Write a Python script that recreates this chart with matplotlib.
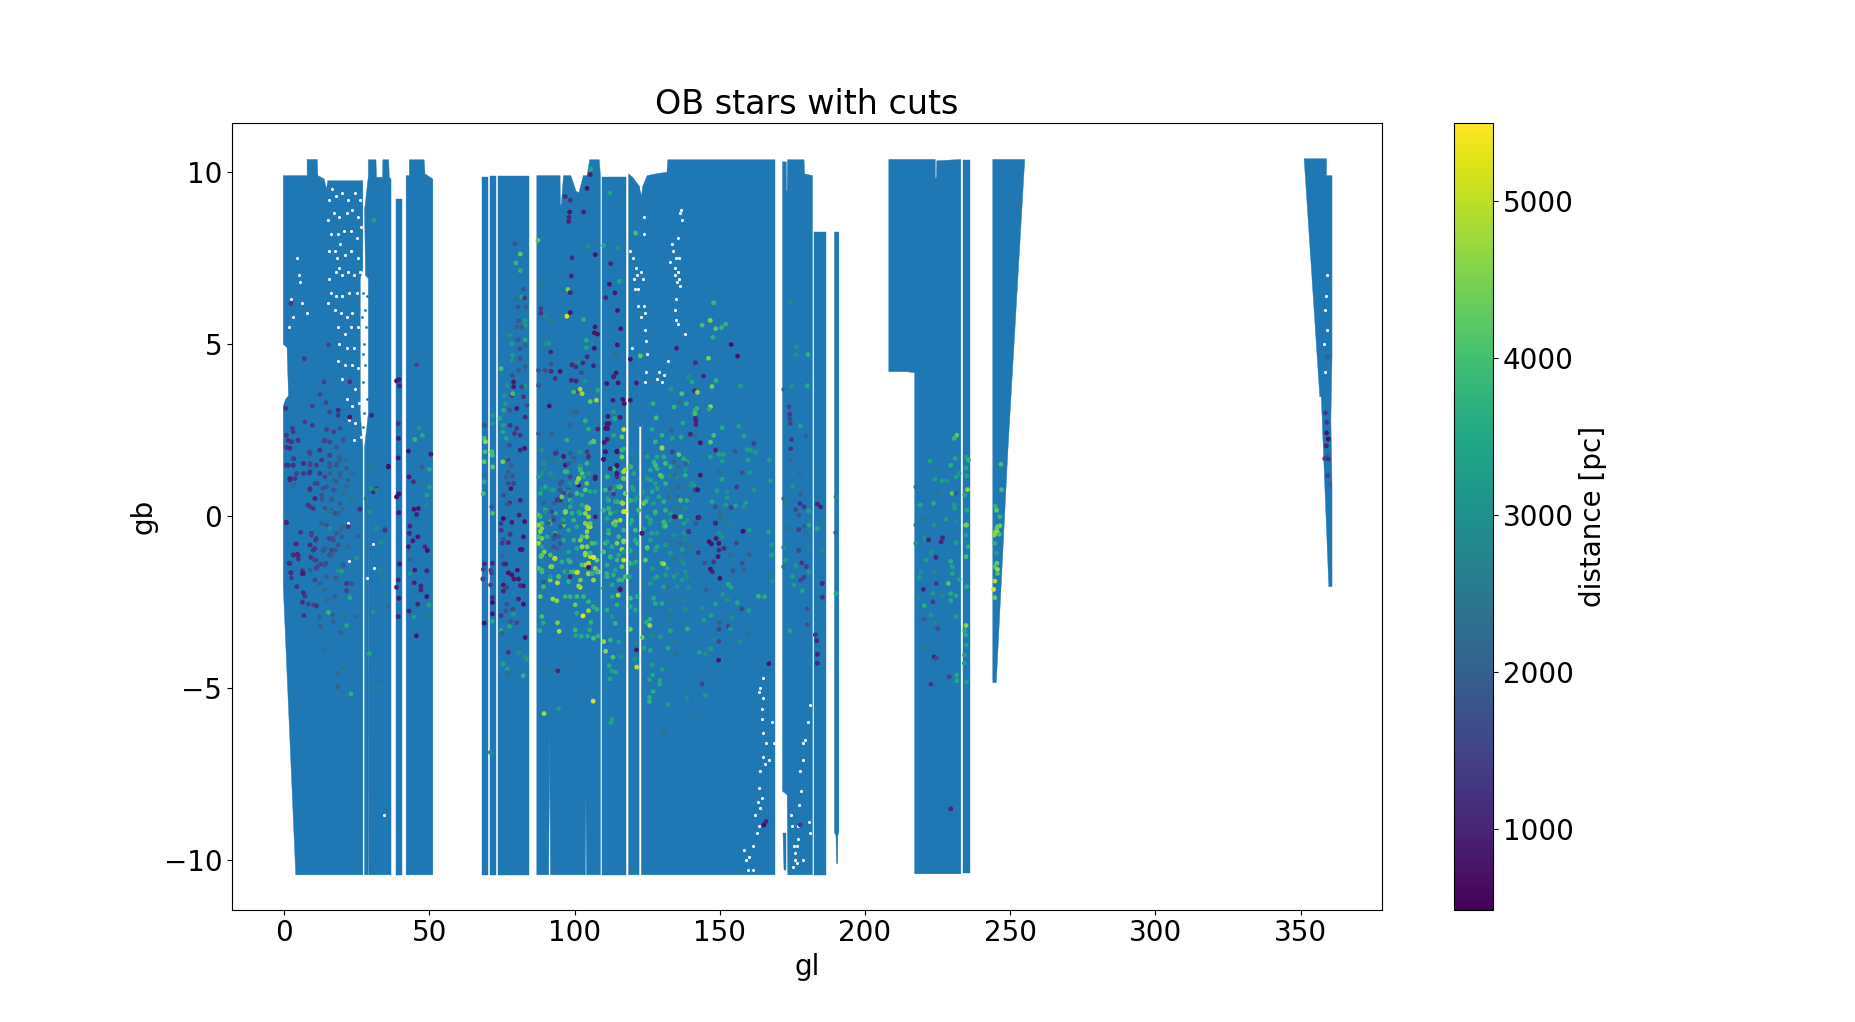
import numpy as np
import matplotlib
matplotlib.use("Agg")
import matplotlib.pyplot as plt

plt.rcParams['font.size'] = 20

# ---- Sky coverage of the full OB sample, outlines read as (gl, gb) ----
area_a = [(-.3,9.9),(7.9,9.9),(7.9,10.37),(11.4,10.37),(11.6,9.9),(13.8,9.8),(14.6,9.5),(15,9.75),(27.1,9.75),(27.1,7.2),(26.2,6.9),(26.2,3),(27.1,2),(27.1,-10.43),(4,-10.43),(-.3,-2.05),(-.3,3.2),(.5,3.4),(1.5,3.5),(1,4.9),(-.3,5)]
area_b = [(27.7,8.9),(28,7),(29,6.9),(29,3),(27.7,2),(27.7,-10.43),(28.95,-10.43),(29.05,1),(29.2,-10.43),(36.8,-10.43),(36.8,9.8),(36.2,9.85),(36,10.36),(34,10.36),(33.9,9.85),(31.8,9.85),(31.6,10.36),(29,10.36),(29,9.9)]
area_c = [(38.4,9.23),(40.5,9.23),(40.5,-10.43),(38.4,-10.43)]
area_d = [(42,9.9),(43.1,9.9),(43.1,10.36),(48.2,10.36),(48.5,9.95),(51.2,9.8),(51.2,-10.43),(42,-10.43)]
area_e = [(68.2,9.85),(70.2,9.85),(70.2,-10.43),(68.2,-10.43)]
area_f = [(70.9,9.9),(73.1,9.9),(73.1,-10.43),(70.9,-10.43)]
area_g = [(73.6,9.9),(84.4,9.9),(84.4,-10.43),(73.6,-10.43)]
area_h = [(87,9.9),(95,9.9),(95.1,9.05),(95.4,9.05),(96.2,9.9),(98.7,9.9),(100.5,9.45),(101.5,9.4),(103,9.9),(104.3,9.9),(105.2,10.36),(108.5,10.36),(108.9,9.9),(108.9,-10.43),(104.1,-10.43),(103.9,-8.1),(103.7,-10.43),(91.7,-10.43),(91.4,-6.3),(91.1,-10.43),(87,-10.43)]
area_i = [(109.6,9.85),(117.8,9.85),(117.8,-10.43),(109.6,-10.43)]
area_j = [(118.6,9.95),(120,9.85),(122.2,9.6),(122.2,-10.43),(118.6,-10.43)]
area_k = [(122.2,9.6),(123,9.3),(123.5,9.6),(125,9.9),(128,9.95),(131.8,10),(132.1,10.36),(169,10.36),(169,-10.43),(123,-10.43),(123,2.6),(122.2,2.6)]
area_l = [(171.6,10.3),(172.9,10.3),(172.95,9.45),(173.2,9.45),(173.3,10.36),(179,10.36),(179.2,9.95),(181.9,9.9),(181.9,-10.43),(173.4,-10.43),(173.2,-8.1),(171.6,-8)]
area_l2 = [(171.8,-9.2),(172.9,-9.2),(172.9,-10.3),(172,-10.3)]
area_m = [(182.5,8.26),(186.5,8.26),(186.5,-10.43),(182.5,-10.43)]
area_n = [(189.5,8.26),(191,8.26),(191,-9.2),(190.6,-9.3),(190.6,-10.1),(190.2,-10.1),(190,-9.3),(189.5,-9.2)]
area_o = [(208.2,10.37),(224.2,10.37),(224.2,9.8),(224.6,9.85),(224.7,10.33),(233,10.37),(233,-10.4),(217.1,-10.4),(217.1,4.17),(214,4.2),(208.2,4.2)]
area_o2 = [(233.7,10.36),(236.1,10.36),(236.1,-10.37),(233.7,-10.37)]
area_p = [(244,10.37),(255,10.37),(249.2,1.92),(245.2,-4.84),(244,-4.84)]
area_q = [(351.2,10.39),(358.9,10.39),(358.9,9.9),(360.8,9.9),(360.8,4.6),(360.4,2.8),(360.8,.85),(360.8,-2.05),(359.7,-2.05),(357.1,3.47),(356.6,3.47)]
areas = [area_a, area_b, area_c, area_d, area_e, area_f, area_g, area_h, area_i, area_j,
         area_k, area_l, area_l2, area_m, area_n, area_o, area_o2, area_p, area_q]

# ---- Stray stars inside the wide gap near gl 27 ----
strays = [(27.3,6.5),(27.8,6),(28.3,5.5),(27.5,5),(28,4.4),(27.3,3.9),(28.4,3.4),(27.6,3),(26.9,5.8),(27,4.7),(28.5,6.4),(27.2,2.6)]

# ---- Small empty patches inside that coverage ----
gaps = [(15.5,9.2),(16.5,9.5),(18,9.3),(20,9.4),(22,9.2),(24.5,9.4),(26,9.2),(15.2,8.6),(17,8.8),(19,8.7),(21.5,8.8),(23.5,8.9),(25.5,8.7),(16,8.2),(18.5,8.2),(20.5,8.3),(23,8.3),(25,8.1),(26.5,8.4),(15.5,7.7),(17.5,7.7),(18.3,7.5),(19.2,7.9),(21,7.6),(23,7.7),(25.5,7.5),(17.8,7.1),(19,7.2),(20,7),(22,7.1),(24,7),(26,7.1),(15.3,6.9),(16,6.5),(18,6.4),(20,6.4),(22.5,6.5),(25,6.5),(15.2,6.2),(17.5,6),(19.5,5.9),(21.5,5.8),(23.5,5.9),(18.5,5.5),(21,5.3),(23,5.5),(25.5,5.5),(19,5),(21.5,4.9),(24,4.9),(18.5,4.5),(21,4.4),(23.5,4.4),(25.5,4.3),(20,4),(22.5,3.9),(24.5,3.7),(21.5,3.4),(23.5,3.2),(25.8,3.3),(22.5,2.8),(24.5,2.7),(24,2.2),(26.3,2.3),
        (4.5,7.5),(5.5,6.8),(6,6.2),(3,5.8),(7.8,5.9),(2.5,6.3),(5.2,7),(1.5,5.5),(22,-.2),(22.2,-1.3),(30.5,-.8),(31,-1.5),(28.5,-1.8),(34.5,-8.7),
        (119.2,7.7),(120,7.5),(121,7.2),(120.5,6.9),(121.5,7),(122,6.6),(120.8,6.6),(121.7,6.1),(122.8,7.1),(123.5,6.9),(124,6.1),(123,5.8),(124.3,5.4),(124.5,5.1),(124.8,4.7),(124.7,4.2),(124.2,3.9),(123.9,8.7),(123.8,8.2),(124.2,5.9),(119.6,4.9),
        (133.5,7.9),(134,7.7),(133,7.4),(135,7.5),(136,7.5),(134.5,7.2),(135.5,7.1),(135.8,6.9),(136.3,6.7),(135.2,6.8),(134.5,7),(136.4,8.8),(137,8.6),(136.7,8.9),(135.5,8.1),(134.8,6.3),(134.5,6),(134.8,5.7),(135.5,5.6),(138,5.3),(132,4.5),(130.7,4.1),(130,3.9),(128.3,4),(129,4.2),
        (165,-4.7),(164,-5),(163.5,-5.1),(165,-5.3),(164.5,-5.6),(164.7,-5.9),(164.8,-6.3),(166,-6.6),(164.8,-7),(164,-7.4),(165.5,-7.2),(166.8,-7.1),(163.5,-7.9),(164.5,-8.2),(163,-8.3),(164,-8.5),(162,-8.7),(163.5,-9),(162.7,-9.2),(161.5,-9.6),(160.2,-9.9),(159,-10),(158.5,-9.7),(159.8,-10.3),(161.5,-10.3),(168.5,-6.6),(168,-6),
        (181,-5.5),(180.5,-6),(179.5,-6.5),(178.5,-6.6),(178.8,-7.1),(177.7,-7.4),(178,-8),(177.2,-8.4),(180.7,-8.9),(181.2,-9.2),(174.5,-8.7),(175,-9),(175.5,-9.6),(176,-9.8),(176.5,-9.6),(177,-9.4),(176,-10),(176.5,-10.1),(175.2,-10.2),(177,-9),(178.5,-10),
        (358,5),(358.3,4.2),(358.5,6),(359,7),(358.6,6.4),(358.9,5.4)]

# ---- Stars passing the cuts: (gl, gb, distance in pc) ----
stars_gl0 = [(2.3,6.18,1300),(6.9,4.58,1300),(.6,3.13,1200),(2.9,2.55,1300),(1.4,2.2,1200),(2,1.97,1100),(.8,2,1200),(4.8,2.2,1300),(9.7,2.64,1300),(7.1,2.74,1400),(9.7,3.2,1400),(12.3,3.54,1500),(14.4,3.3,1500),(15.7,3.03,1500),(18.6,3.08,1000),(18.6,2.93,1300),(22.6,2.88,800),(22.6,3.9,1200),(13.7,3.9,1500),(15.3,4.98,1500),(14.6,2.52,1500),(17.1,2.45,1400),(19.2,2.55,1700),(20.4,2.25,2000),(13.8,2.18,1500),(15.7,2.16,1500),(8.6,1.87,1700),(12.3,1.92,1400),(15.7,1.77,1900),(19,1.72,2000),(21.3,1.63,2200),(3.3,1.67,1200),(1.4,1.48,1300),(3.1,1.48,1500),(8.9,1.48,1500),(12.3,1.24,1500),(2,1.09,1000),(3.7,1.09,1300),(8.6,1.24,1500),(15.7,1.43,1800),(18,1.53,2000),(23.2,1.24,2200),(19.2,1.14,2000),(14.6,.85,1800),(8.9,.8,1300),(17.5,.76,2000),(21.5,.85,2200),(10.6,.51,1500),(16.3,.51,1900),(8.9,.27,1500),(14,.22,1700),(19.2,.37,1900),(17.5,.08,1700),(.8,-.18,1300),(3.3,.9,2200),
(.8,-.19,1100),(5.7,-.47,1300),(4,-.81,1000),(3.3,-1.13,1100),(4.5,-1.11,1000),(4.9,-1.25,1200),(1.7,-1.37,1100),(2.3,-1.65,1100),(2.5,-1.79,1300),(6.3,-1.59,1200),(6.3,-1.68,1000),(4.3,-2.05,1200),(6.6,-2.23,1100),(7.1,-2.32,1300),(6.3,-2.5,1100),(6.8,-2.89,1200),(8.3,-2.56,1500),(10.3,-2.58,1500),(11.1,-2.61,1300),(9.4,-.5,1300),(8.9,-.84,1100),(10.8,-.7,1400),(10.6,-.94,1300),(11,-1.28,1500),(11.4,-1.47,1500),(8.9,-1.57,2000),(10.6,-1.86,1500),(12.3,-1.96,2000),(14,-2.15,2200),(14.6,-1.76,2000),(14.4,-1.37,1600),(15.7,-1.13,1700),(16.9,-.7,1700),(16.3,-.99,1600),(18.6,-.84,1700),(18,-.5,1900),(14.6,-.26,1800),(16.3,.17,2100),(22,-.89,2200),(20.3,-1.52,2300),(21.5,-1.96,1300),(23.2,-1.96,1700),(21.5,-2.17,1400),(17.5,-2.34,2000),(14.8,-2.44,2200),(12.1,-2.94,2000),(12.5,-3.21,2000),(16.7,-2.88,2000),(16.9,-3.07,2000),(24.4,-2.92,2200),(20.7,-2.92,2300),(19.5,-3.39,2000),(14,-3.89,2300),(18.4,-4.57,2200),(18.4,-4.96,2000),(20.7,-4.42,2400),
(15.2,-2.8,3800),(21.5,-3.18,3500),(22.6,-2.37,3500),(23,-5.17,3700),(18.6,-1.59,3000),(12.9,-.2,2000),(20.1,.2,2200),(13.5,-1,1700),(17.8,-1.8,1900),(11.5,.95,1600),(9.2,-1.2,1200),(13,.5,1800),(17,1.05,2200),(19.4,-.4,2200),(15.5,-.65,1500),(12.6,-1.4,1600)]

stars_gl0_dense = [(.8,2.35,1300),(3.1,2.45,1300),(2.5,2.16,1200),(4.8,2.21,1200),(12.3,1.92,1200),(15.7,1.77,1500),(8.9,1.82,1500),(14,2.21,1500),(18,2.01,1800),(20.3,2.21,1800),(19.2,1.63,2000),(15.7,1.53,1800),(8.9,1.53,1500),(6.6,1.53,1100),(3.1,1.67,1500),(.8,1.48,1200),(3.1,1.48,1200),(11.1,1.48,1300),(12.9,1.63,1300),(18,1.48,1800),(21.5,1.38,1900),(8.9,1.29,1200),(6.6,1.24,1200),(12.3,1.24,1300),(15.7,1.24,1900),(19.2,1.24,2000),(23.8,1.24,2200),(2,1.05,1000),(4.3,1.24,1400),(14,1.14,1500),(18,1,1900),(22.1,1.05,2000),(10.6,.95,1500),(8.9,.77,1200),(13.4,.8,1700),(16.9,.76,1800),(10.6,.51,1000),(8.3,.32,1300),(12.9,.61,1800),(16.3,.46,1900),(20.3,.66,2300),(13.4,.13,2600),(15.7,.13,2400),(10,.22,1300),(23.2,.51,2400),(18.6,.08,2000),(.8,-.19,1000),(22.1,-.31,1300),(12.9,-.21,2000),(15.7,-.36,3000),(20.3,-.31,2200),(9.4,-.55,1500),(11.1,-.65,1300),(16.9,-.65,1700),(19.8,-.6,1900),(4.3,-.81,1100),(10,-.99,1200),(14,-.94,1900),(17.5,-.99,1800),(25.5,-.6,2000),(3.1,-1.13,1100),(4.8,-1.13,1000),(10.6,-1.28,1400),(16.3,-1.13,1900),(14,-1.42,1700),(2,-1.37,1200),(6.6,-1.67,900),(19.8,-1.6,3400),(11.1,-1.52,1500),(20.3,-1.42,1800),(24.9,-1.23,3200),(2.3,-1.64,1100),(33,-1.57,3000),(29.8,.82,3000),(29.8,1.48,2800),(35.9,1.43,700),(31.8,.8,1200),(30.7,.71,1000),(26.1,.2,1200),(31.8,-.36,3000),(34.7,-.41,1000)]

stars_gl28 = [(29.2,-4,3500),(33.3,-.77,3000),(34.7,-.4,1300),(33,-1.57,2700),(34.1,-1.86,2700),(34.7,-2.3,2700),(35.9,-2.61,2300),(30.7,-2.78,3000),(32.4,-4.98,2700),(30.9,8.6,3300),(30.1,2.93,1000),(35.9,1.45,700),(30.1,1.53,2500),(30.7,1.24,2500),(30.1,.8,2900),(31.8,.76,2800),(28.2,.51,2500),(29.5,.13,3000),
(39.5,3.97,800),(38.7,3.93,800),(39.7,3.79,1000),(39.3,2.69,1200),(39.4,2.26,900),(39.3,1.69,800),(39.5,.64,700),(38.7,.56,700),(39.5,.1,900),(39.7,-1.39,900),(39.3,-1.86,1000),(38.7,-2.07,1000),(39.5,-2.39,900),(39.3,-2.92,1000),
(45.6,4.4,1500),(46.5,2.55,3000),(47.6,2.35,3600),(45,2.23,3800),(42.8,1.89,800),(50.5,1.8,900),(50,1.36,3500),(47.4,1.43,2000),(43,1.14,900),(44.5,1,1100),(47.4,.95,2500),(50,.85,3300),(49.1,.61,3300),(46.2,.22,800),(44.7,.2,800),(45.6,.05,900),(49.1,.32,2800),
(43.3,-.29,1000),(43.1,-.5,1000),(44.3,-.72,900),(42.8,-.89,900),(46,-.6,900),(48.5,-.89,1000),(49.3,-1,700),(43.3,-1.26,2000),(45,-1.57,900),(49.1,-1.59,1000),(43.3,-1.67,3000),(44.8,-1.94,1000),(47.1,-2.03,1000),(47.1,-2.15,1000),(49.1,-2.34,800),(46,-2.56,1000),(49.8,-2.58,3400),(43,-2.76,1000),(49.7,-2.9,2700),(44.8,-2.94,3300),(45.5,-3.48,800)]

stars_gl68 = [(68.9,2.26,4000),(69.3,2.16,4700),(69.2,1.87,4000),(71.5,1.87,4000),(68.9,1.58,4200),(71.7,1.77,4000),(71.8,1.43,4200),(68.9,1,3500),(68.6,.66,4000),(71.8,.08,4000),(69,2.64,1700),(71.8,2.93,3200),(71.8,2.69,3200),(74.7,4.29,4000),(69.2,1.19,2300),(71.5,.27,1800),
(79.5,7.92,1800),(81.3,7.62,4200),(79.8,7.36,3800),(81.3,7.14,3700),(82.4,6.59,1800),(81.8,6.37,3400),(80.1,6.32,2300),(82.8,6.34,1300),(80.5,6.08,1800),(83.3,6.08,2000),(80.7,5.67,1800),(83,5.69,3200),(83,5.55,3200),(80.1,5.5,2000),(81.8,5.5,2000),(77.8,5.26,3000),(83,5.13,3500),(80.5,5.13,1800),(83,4.97,2000),(78.4,5.01,3300),(81.1,4.87,1700),(78.6,4.68,3300),(81.3,4.58,1700),(78.4,4.53,3000),(83,4.34,2000),(80.7,4.24,1900),(78.6,4.09,1700),(83,3.8,3000),(76.7,3.8,3000),(79,3.9,900),(79,3.76,900),(81.8,3.76,1500),(75.9,3.51,3200),(78.4,3.51,1300),(78.7,3.56,4000),(82.4,3.47,1200),(83.6,3.22,1700),(80.1,3.13,900),(76.1,3.27,3200),(75.5,3.08,3500),(77.6,3.08,1800),(74.3,2.84,3500),(83,2.88,1100),(75.5,2.64,3300),(77.8,2.64,1200),(80.1,2.55,1300),(81.3,2.35,1200),(79.3,2.4,1300),(75.3,2.45,3500),(76.5,2.26,3500),(77.6,2.06,1700),(82.8,1.97,800),(81.3,1.92,1000),(76.5,1.72,2800),(77.2,1.63,1700),(75.3,1.58,4400),(78.1,1.48,2000),(77.2,1.29,1900),(78.6,1.16,1800),(76.5,1.14,2000),(77.2,.95,1600),(79,.95,1500),(78.1,.8,800),(81.3,.46,1000),(75.5,.61,1700),(77.6,.39,1200),(80.9,.03,900),(75.5,-.07,700),(78.4,-.18,900),
(76.9,.35,1800),(82.8,-.16,800),(74.7,-.21,1300),(74.7,-.41,1300),(77.8,-.53,1300),(82.4,-.6,800),(75.5,-.68,1800),(77.2,-.77,1000),(75.1,-.79,1300),(81.3,-.97,800),(81.9,-.97,800),(74.9,-1.15,2200),(75.5,-1.39,1300),(76.3,-1.39,1000),(69,-1.39,1000),(68.6,-1.55,1500),(71.2,-1.57,1500),(71.7,-1.37,1000),(71.4,-1.65,1500),(80.3,-1.57,800),(77.2,-1.65,800),(78.4,-1.71,800),(80.7,-1.83,800),(79.1,-1.83,800),(68.4,-1.83,1500),(71.1,-2,1500),(75.5,-2,800),(82.4,-2.03,800),(81.3,-2.02,1000),(76.5,-2.07,1500),(75.5,-2.18,1000),(80.7,-2.41,1000),(71.7,-2.37,1100),(71.7,-2.51,700),(76.6,-2.56,1700),(82.4,-2.56,700),(78.7,-2.71,1500),(76.3,-2.75,1800),(71.7,-2.84,800),(74.7,-2.89,1300),(68.9,-3.11,700),(71.6,-3.06,3500),(78,-3.06,1800),(80.1,-3.1,1500),(77.6,-3.21,3500),(79,-2.85,3300),(74.7,-3.33,3600),(83,-3.53,800),(75,-3.4,2000),(77.2,-3.96,1300),(80.7,-3.97,3000),(83,-4.1,3000),(83.6,-4.16,3300),(75.3,-4.3,3400),(76.8,-4.44,3300),(76.8,-4.56,2300),(82.3,-4.64,3700),(71,-6.87,3000)]

stars_gl87 = [(87.4,8.02,4200),(97.3,5.81,5200),(97.7,6.59,4400),(98.5,5.92,800),(98.5,6.5,1000),(99.1,7.51,1100),(98.9,6.98,1000),(96.8,9.29,1100),(98.5,9.18,1200),(98.3,8.84,800),(98.1,8.69,1000),(98,8.57,1000),(103.1,8.84,1000),(104.3,9.53,800),(105.4,9.93,900),(105.6,10.08,3500),(104.5,7.84,3000),(107.1,7.6,800),(88.4,6.83,2500),(88.7,6.66,2500),(88.4,6.03,1400),(88.4,5.9,1300),(89.9,5.82,2700),(92.2,5.67,2700),(95.7,5.82,2500),(103.1,5.71,3700),(107,5.5,800),(106.8,5.33,800),(107.9,5.29,800),(104,5.11,3600),(104,4.9,3400),(106,5.01,2700),(106.8,4.88,800),(89.3,5.21,2400),(91.1,5.04,3200),(90.2,5.01,3000),(91.8,4.77,1000),(104.3,4.63,1100),(102.9,4.45,1100),(99.1,4.4,1100),(100.4,4.34,1100),(101,4.48,2800),(106.5,4.37,1000),(91.9,4.43,1700),(89.9,4.24,1700),(91.9,4.21,1100),(87.6,4.24,1800),(95,4.21,800),(93.3,4,1200),(87.6,3.8,1800),(98.9,3.95,1000),(100.5,3.93,1000),(102.3,4.17,1700),(103.7,3.93,3000),(101.9,3.69,4800),(102.6,3.56,4800),(107.5,3.37,4700),(105.4,3.33,4200),(108,3.66,3500),(91.3,3.2,800),(100.6,3.61,1800),(99.7,3.61,4000),
(99.1,3.03,2300),(100.6,3.03,2000),(103.7,2.77,3700),(98.5,2.64,2000),(104.8,2.53,3600),(108,2.53,1000),(87.6,2.4,2000),(92,2.4,2000),(97.3,2.21,3700),(105.4,2.13,3700),(106.5,2.18,4500),(101.9,1.87,3500),(93.7,1.84,1400),(96.2,1.72,1500),(98.5,1.82,2000),(99.7,1.67,1500),(104.8,1.72,1000),(88.7,1.92,3000),(89.3,1.53,3000),(92.8,1.67,2400),(96.8,1.29,4000),(101.9,1.43,4000),(104.2,1.53,3800),(102.6,1.24,4200),(107.1,1.14,800),(91.6,1.24,3000),(87.6,1.14,3400),(98.5,1.14,1500),(101.4,1.09,4700),(104.2,.95,4300),(95,.95,1700),(89.9,.85,3600),(88.2,.66,3600),(92.8,.76,3300),(97.9,.76,1800),(103.7,.76,4200),(100.8,.66,4000),(107.1,.71,3400),(94.5,.51,1500),(98.5,.46,3900),(104.8,.22,5000),(104.2,.27,4500),(96.8,.13,5000),(89.9,.17,3900),(87.6,.03,4100),(93.3,.08,3700),(101.9,.08,3700),(107.1,-.02,900),(99.7,-.12,3800),(103.7,-.21,4500),(105.4,-.31,4800),(88.7,-.21,4000),(91.6,-.16,3800),(96.2,-.26,4200),
(88.2,-.45,4600),(87.6,-.79,4700),(88.7,-.65,4400),(89.6,-1.04,4500),(88.4,-1.18,4100),(87.6,-1.52,4000),(88.7,-1.62,4000),(88.2,-2.34,4300),(92.5,-2.41,4700),(93.9,-2.46,4600),(91.8,-1.47,4700),(93.1,-1.23,4900),(94.1,-1.94,4900),(94.5,-1.76,4400),(96.8,.11,4800),(91.6,-.21,3800),(92.8,-.02,2000),(94.5,-.6,1800),(95.1,-.79,1800),(96.2,-.17,2000),(97.9,-.41,1900),(92.8,-.65,1800),(93.3,-.5,3800),(91,-1.13,1900),(98.5,.27,3600),(97.9,-1.28,3700),(98.5,-1.62,3800),(101,-1.63,4900),(101.9,-2.07,5000),(101.4,-2.03,4600),(103.7,-1.08,4800),(102.6,-.89,4700),(105.4,-1.18,5000),(106.5,-1.2,5300),(104.8,-1.37,4800),(104.2,-.6,4600),(104.8,-.26,4800),(104.8,.22,5000),(103.7,.08,4600),(103.7,-1.42,4700),(107.1,-1.52,4600),(104.8,-1.68,4700),(106.5,-1.86,4700),(108.2,-1.62,4900),(107.7,-1.28,4400),(107.1,-.79,3700),(99.7,-1.62,4000),(96.8,-1.62,3800),(91.6,-1.86,4500),(97.9,-1.91,3700),(89.3,-2.05,3900),(100.8,-2.34,3900),(98.5,-2.34,3800),(96.8,-2.34,3800),(103.1,-2.34,3800),(104.8,-2.49,3800),(106.5,-2.63,3700),(100.2,-2.58,4300),(104.8,-2.75,4700),(102.9,-2.9,5300),(100.8,-2.83,3600),(107.7,-2.71,3700),(88.7,-2.92,4000),(94.1,-3.1,4400),(89.3,-3.1,3500),(88,-3.33,3700),(94.7,-3.35,4800),(100.2,-3.31,3800),(100.4,-3.47,3500),(102.3,-3.49,3600),(104.5,-3.49,3600),(105.6,-3.09,3700),(105.2,-3.31,3600),(106.5,-3.55,4000),(108,-3.49,3700),(106.4,-5.38,5200),(89.5,-5.74,4700),(94.5,-5.6,3200),(90.8,-4.5,2600),(94.2,-4.5,1000)]

stars_gl87_dense = [(93.3,1.82,1300),(96.2,1.74,900),(96.8,1.48,800),(99.7,1.63,2300),(102,1.87,3000),(104.3,1.87,1400),(104.8,1.74,1300),(106.6,2.16,4200),(89.3,1.63,2700),(89.9,1.38,2700),(92.2,1.63,2500),(95.1,1.63,2700),(97.9,1.53,1800),(102,1.48,3000),(97.4,1.29,3700),(101.4,1.09,4700),(102,1.34,3800),(101.4,.9,800),(100.8,.98,4400),(103.1,1.14,3500),(107.1,1.09,900),(104.8,1.24,3200),(88.7,1.24,3000),(92.8,1.14,2700),(95.6,1,1800),(98.5,.95,3000),(97.9,.71,3000),(88.7,.8,3000),(91.6,.76,3000),(95.1,.76,1700),(96.2,.66,1500),(93.9,.46,1300),(95.1,.46,1400),(98.5,.61,1800),(102.5,.61,3500),(105.4,.71,3500),(95.6,.56,4400),(99.1,.42,3000),(104.3,.22,4700),(104.8,-.02,4700),(102.5,.32,3500),(89.9,.13,3000),(92.8,.37,2000),(89.3,.37,2000),(92.2,.13,1600),(96.8,.13,4500),(99.1,.08,3600),(96.2,-.12,3300),(101.4,.13,3500),(88.2,-.02,3800),(88.7,-.36,4500),(87.6,-.26,4600),(91,-.21,2000),(92.8,-.12,1500),(95.1,-.31,1800),(93.3,-.55,1500),(104.8,-.31,4800),(104.3,-.45,4600),(105.4,-.21,4300),(100.8,-.31,3500),(97.9,-.41,3600),(102.5,-.6,4000),(90.5,-.6,3600),(87.6,-.6,4000),(96.2,-.7,3500),(99.7,-.7,3700),(102,-.7,4500),(88.7,-.89,3500),(92.8,-.89,1800),(93.9,-.94,2000),(104.3,-.89,4500),(106,-.79,4000),(97.9,-1.04,3400),(100.8,-.94,3500),(91.6,-1.13,4000),(88.7,-1.13,4200),(93.3,-1.23,4900),(95.6,-1.33,3700),(98.5,-1.33,3800),(103.7,-1.13,4600),(105.4,-1.08,3800),(106.6,-1.2,5300),(104.8,-1.37,4800),(102.5,-1.42,4100),(92.2,-1.47,4500),(88.7,-1.57,3800),(97.4,-1.62,2800),(100.8,-1.64,5000),(104.8,-1.67,4700),(91.6,-1.76,3300),(94.5,-1.76,4000),(102,-1.86,4400),(106,-1.67,3800),(107.7,-1.62,4000),(98.5,-1.76,1000),(89.3,-1.91,1800),(104.8,-1.49,800),
(110.6,1.87,800),(114.6,1.89,700),(110,1.65,700),(114.6,1.48,700),(112.3,1.38,1000),(116.3,1.92,3800),(116.9,1.29,4800),(116.9,1.09,4200),(114.6,1.24,800),(111.2,1.14,3800),(114,.85,3000),(115.2,.85,4000),(112.3,.8,1800),(113.4,.64,1400),(111.2,.51,3300),(114,.42,3500),(116.3,.39,4700),(116.9,.13,5000),(111.7,.22,3800),(114,.13,3000),(111.2,-.07,3400),(115.7,-.12,4700),(114,-.26,4000),(111.7,-.41,3500),(116.9,-.41,3800),(115.2,-.6,3900),(111.2,-.75,3500),(112.9,-.89,3600),(116.9,-.75,4500),(110,-1.04,4000),(112.3,-1.2,3700),(115.2,-1.13,3500),(116.9,-1.04,3000),(111.2,-1.42,3600),(114,-1.57,3400),(116.3,-1.47,4200),(111.2,-1.76,3800),(115.2,-1.86,3800),(117.5,-1.76,4000),(112.9,-2,3500),(115.7,-2.12,800),
(119.2,1.43,3800),(120.3,1.24,3500),(119.8,.85,3400),(120.9,.46,3300),(119.2,.46,3700),(119.8,-.12,3600),(120.9,-.41,4000),(120.9,-.7,3600),(119.2,-1,3500),(120.3,-1.37,3400),(119.2,-1.76,3300),(123.2,-.5,800)]

stars_gl110 = [(116.9,2.52,5000),(116.3,2.3,4300),(113.4,3.03,3300),(113.8,2.84,3500),(111.5,2.9,800),(111.1,2.69,800),(111.9,2.69,800),(110.7,2.55,700),(111.4,2.55,800),(115.7,2.87,900),(110.2,2.14,800),(111.2,2.23,900),(114.6,1.87,800),(110.6,1.87,800),(110,1.65,800),(114.6,1.46,800),(116.9,1.95,3800),(113.4,2.35,3500),(113.2,3.37,900),(117.1,3.27,800),(116.6,3.39,800),(119.2,3.37,800),(112.1,9.39,3400),(110,7.87,3500),(111.4,7.6,2600),(112.4,7.34,1000),(114.8,7.79,3000),(115.4,6.83,3500),(112,6.74,800),(113.9,6.49,800),(110.7,6.35,1000),(114.8,5.98,800),(115.9,5.45,800),(114.7,4.98,800),(114.1,4.7,2300),(119.2,4.56,800),(114.3,4.16,800),(113.4,4.05,900),(115,3.87,800),(111.1,3.85,800),(121,8.23,4000),(122.7,4.66,4200),(121.3,3.87,900),
(116.3,1.72,4400),(113.4,1.38,3800),(117.4,1.34,4800),(119.2,1.43,4500),(116.9,1.09,5000),(114.6,1.14,1200),(111.7,1.14,3000),(110.6,.76,3800),(112.9,.76,3700),(115.7,.85,4600),(117.4,.66,4400),(120.3,.76,3400),(111.7,.46,3700),(114.6,.42,3900),(116.6,.37,5000),(119.2,.46,3800),(122.1,.17,4000),(116.9,.13,5100),(112.3,.08,3900),(110,.17,3700),(114.1,-.16,4700),(119.2,-.21,3500),(121.5,.56,3000),(120,1.82,2700),(123.8,.37,4300),
(117.5,.13,5300),(113.4,-.21,4400),(111.7,-.5,3800),(110.6,-.79,3900),(114.6,-.79,4500),(116.9,-.72,5000),(116.3,-.97,4700),(112.3,-1.18,3800),(114.6,-1.28,3800),(116.9,-1.28,5000),(119.2,-1.37,3800),(121.5,-.79,3800),(121.1,-1.33,3600),(111.1,-1.67,3700),(113.4,-1.71,3700),(116.3,-1.86,3800),(118.6,-1.76,3300),(115.7,-2.14,800),(110,-2.1,2700),(112.9,-2.34,3500),(115,-2.3,4800),(119.2,-2.39,4000),(121.5,-2.34,3500),(111.1,-2.73,3600),(114.6,-2.58,3700),(119.2,-2.63,3600),(120.9,-2.73,3500),(112.9,-2.92,3100),(114,-3.12,3800),(119.2,-3.29,4300),(110,-3.65,4700),(112.3,-3.6,3800),(115.2,-3.65,3400),(121.2,-3.7,2700),(121.3,-3.89,800),(110.7,-3.93,4600),(113.2,-4.1,4000),(111.9,-4.35,3600),(112.8,-4.5,3400),(114.2,-4.54,3500),(112.2,-4.73,3500),(121.4,-4.39,5000),(116,-4.09,3000),(120.7,-4.16,3000),(112.9,-5.91,3400),(112.5,-6.01,3400)]

stars_gl123 = [(128.1,2.86,4000),(126.6,2.52,3500),(130.1,2.35,3700),(133.6,2.26,3400),(125,1.72,3300),(127.3,1.58,3700),(130.1,1.97,4400),(130.7,1.72,3600),(133.6,1.87,1900),(137.6,1.67,3500),(128.4,1.38,3700),(133,1.43,3700),(135.8,1.43,2200),(138.7,1.58,3500),(126.1,1.05,3500),(130.1,1.14,4000),(134.7,1.19,2300),(138.1,1.19,3700),(128.4,.8,3500),(133,.76,2700),(135.8,.85,2200),(140,.9,3000),(125,.51,3300),(130.7,.42,3700),(135.3,.56,2300),(138.7,.46,3700),(127.8,.08,3500),(133,.08,3200),(136.4,.22,2500),(134.3,-.02,800),(126.1,-.21,3300),(131.2,-.21,3500),(138.7,-.12,3000),
(147.9,6.2,3800),(146.7,5.69,4500),(143.9,5.55,4000),(148.6,5.45,4100),(150.6,5.48,3800),(152,5.58,3700),(147.6,5.2,3700),(153.9,4.99,700),(156.1,4.65,800),(135.1,4.88,900),(146.1,4.59,4500),(141.6,4.46,1100),(144.4,4.07,1000),(139.3,4.05,3000),(148.7,3.94,3700),(140.4,3.9,3500),(147.3,3.77,4300),(157.1,3.79,3300),(133.2,3.69,3200),(141.3,3.64,1000),(142.3,3.6,4600),(136.9,3.56,4100),(138.5,3.27,3700),(127,3.27,3700),(136.2,3.31,2300),(146.8,3.18,4700),(146.3,3.11,3600),(142.1,3.13,3800),(134.3,3.17,3800),(141.5,3.08,3700),(141.4,2.98,4000),(141.6,2.84,1000),(141.8,2.76,1000),(141.8,2.66,1000),(137.3,2.71,3500),(150.8,2.57,3600),(156.5,2.61,3300),(133.2,2.5,2000),(139.9,2.38,1000),(141.5,2.32,2200),(147.9,2.35,4000),(158.3,2.32,3500),(136.7,2.3,3600),(143.3,2.13,800),(146.8,2.15,4200),(161.7,2.11,1500),(148.5,1.92,1000),(155.2,1.89,1800),(159.4,1.94,3300),(160.6,1.92,3300),(162.3,1.85,3200),(149.7,1.8,3400),(151.3,1.79,3300),(146.8,1.72,3500),(150.8,1.6,3300),(159.7,1.63,3400),(167.1,1.63,3300),(143.3,1.19,3200),(149.7,1.29,2300),(157.7,1.26,1700),(160.3,1.26,3200),(150.8,1.07,3500),(167.5,1.03,3300),(142.2,.77,1000),(141,.9,3300),(155.8,.85,1300),(149,.74,3300),(161.7,.76,3200),(152.5,.71,3000),(152.5,.54,3300),(147.3,.42,3500),(158.9,.39,3300),(152,.32,3300),(155.4,.3,3400),(148.5,.27,1700),(153.9,.25,1500),(158.3,.27,3000),(142.5,-.04,900),(149.7,-.04,2300),(152,-.07,2500),(148.5,-.21,1000),(153.7,-.26,2700),
(125,-.94,3700),(126.6,-.5,3400),(130.7,-.31,3400),(135.3,-.21,2500),(137.6,-.5,3000),(139.3,-.45,800),(128.4,-.89,3500),(133,-.79,2500),(136.4,-.79,2300),(139.3,-.89,2500),(130.1,-1.37,4100),(134.1,-1.18,2500),(137.6,-1.37,3000),(127.2,-1.81,3000),(131.3,-1.71,3300),(135.3,-1.67,2800),(138.7,-1.76,3000),(131.8,-2.05,2300),(135.3,-2.05,3000),(139.3,-2.07,3000),(127.2,-2.39,3600),(130.1,-2.54,3600),(133.1,-2.44,2500),(137.6,-2.44,2700),(127.8,-2.54,3600),(133,-2.73,2700),(138.2,-2.71,3000),(125.9,-3,3800),(124.7,-3.09,3700),(125.9,-3.18,4800),(133.1,-2.97,2600),(138.8,-3.28,3700),(133,-3.33,3500),(123.3,-3.53,4300),(126.7,-3.49,2700),(129.5,-3.51,3300),(135.3,-3.65,2500),(132.1,-3.84,3600),(126.1,-3.9,3500),(123.9,-3.84,3300),(134.7,-3.99,2300),(126.7,-4.33,3300),(126.9,-4.62,3500),(130.2,-4.45,3300),(125.8,-4.76,3500),(129.3,-4.89,3500),(129.3,-4.78,3500),(127,-5.1,3600),(125.8,-5.27,3600),(125.8,-5.39,3700),(132.3,-5.47,3300),(138.6,-5.29,3000),(145,-5.21,3200),(143.9,-4.88,1500),(141,-5.85,2500),(131,-6.31,2300),
(149.6,-4.19,800),(166.9,-4.29,800),(143,-3.96,3400),(145,-4,3000),(146.9,-3.86,3300),(147.9,-3.6,2800),(149.7,-3.64,1500),(156.9,-3.64,3000),(159.4,-3.41,2300),(149.7,-3.29,1500),(152.9,-3.2,1500),(153.7,-3.28,3300),(149.9,-3.1,2000),(144.5,-3.02,3300),(147,-2.89,3400),(154.3,-2.94,3000),(143.9,-2.68,3000),(148.5,-2.56,3400),(156,-2.52,3500),(157.6,-2.7,1500),(160,-2.75,3300),(151,-2.28,3200),(152.5,-2.42,3000),(163.3,-2.33,3800),(165.4,-2.35,3600),(152.9,-1.98,3600),(153.9,-2.07,3400),(145.3,-2.14,2000),(150,-1.81,800),(168,-1.9,3000),(167.1,-1.7,2500),(146.8,-1.54,800),(147.4,-1.62,1000),(154.5,-1.59,1800),(158.3,-1.55,2000),(144.8,-1.36,1800),(147.9,-1.33,1300),(157.7,-1.37,1700),(149.4,-1.18,800),(142.6,-1.06,1200),(151.4,-.94,1100),(149.7,-.99,1100),(153.7,-1.13,2300),(160.1,-1.12,2000),(167.8,-.84,3200),(167.8,-1.13,3400),(146.3,-.74,800),(147.1,-.81,800),(148.7,-.65,900),(149.7,-.79,800),(155.7,-.78,1500),(150.8,-.6,3000),(149.7,-.5,3000),(158,-.44,700),(160.3,-.41,3200),(166.8,-.46,3400),(148.5,-.2,1000),(141.6,-.21,900),(142.5,-.05,900),(150,.1,2300),(152,.32,3200),(165.2,-8.98,700),(165.9,-8.88,1000),(177.7,-8.98,1300)]

stars_gl123_dense = [(130.1,1.99,4700),(127.8,2.16,3800),(133.6,1.87,1500),(135.9,1.79,4200),(128.4,1.72,3500),(131.3,1.53,4000),(127.8,1.48,4000),(134.2,1.58,2000),(138.2,1.53,2000),(126.1,1.34,3500),(129.5,1.19,4200),(132.5,1.19,2800),(135.3,1.14,2800),(143.3,1.19,800),(138.2,1.34,3000),(125,1.09,3300),(127.8,.95,3300),(131.3,.95,3700),(137,.85,2500),(140.5,.95,3000),(141.6,.76,1400),(142.4,.76,800),(133.6,.76,2400),(126.7,.71,3500),(123.8,.71,3000),(129,.56,3500),(132.5,.56,2300),(136.5,.46,4000),(139.3,.56,2400),(124.4,.42,4100),(127.2,.37,3300),(134.7,.22,2500),(131.3,.17,3700),(138.2,.22,2800),(125,-.02,3500),(127.8,.13,3800),(126.1,-.12,3500),(134.7,-.02,800),(136.5,-.02,4200),(133,-.12,3000),(142.8,-.04,1000),(130.7,-.17,3800),(137.6,-.21,3300),(131.3,-.29,4000),(123.8,-.36,3300),(141.6,-.21,2000),(139.3,-.45,1300),(123.2,-.5,900),(128.4,-.5,3300),(134.2,-.55,3000),(125,-.91,4200),(126.1,-.7,3300),(138.2,-.67,2700),(131.3,-.84,3200),(137,-.98,3300),(127.8,-1,3300),(133,-1.08,3200),(124.4,-1.28,4300),(130.7,-1.39,4700),(131.9,-1.52,3400),(126.7,-1.52,3200),(134.7,-1.28,2500),(137,-1.28,2800),(138.2,-1.62,3100),(128.4,-1.76,3500),(134.2,-1.76,3200),(137,-1.86,3200),(126.1,-1.96,3300),(130.7,-2.05,3300)]

stars_gl171 = [(174.4,6.25,2800),(176.4,4.92,3000),(176.1,4.7,3000),(180.3,4.7,3700),(172,3.68,2300),(174.7,3.77,3000),(180.1,3.79,3600),(173.8,3.18,1500),(174.1,2.96,1300),(174.1,2.82,1600),(174.3,2.69,1500),(177.7,2.62,3400),(179.7,2.32,2000),(174.7,2.23,1300),(174.4,1.96,1300),(174.4,1.62,2200),(177.6,1.22,2300),(175.2,.87,3100),(177.8,.64,2000),(172,.51,2400),(172.6,.37,2600),(177.6,.37,1200),(179,.27,1300),(176.1,.19,1600),(180.6,.15,3300),(177.2,.03,1800),(183.6,.35,1000),(184.7,.27,1000),(190,.56,2800),(173.2,-.36,2300),(179,-.29,2000),(183.6,-.36,3500),
(180.7,-.26,3300),(177.2,-.39,1400),(179.5,-.5,2300),(189.9,-.48,2300),(172,-.91,3000),(177.2,-1,1500),(180.7,-.91,2700),(185.3,-1,2800),(172.6,-1.28,3300),(178.2,-1.36,1300),(179.8,-1.47,1400),(176.1,-1.44,3200),(180.7,-1.62,3100),(172,-1.47,2300),(175,-1.76,3300),(177.8,-1.86,1500),(179,-1.78,1500),(175.5,-2.01,3300),(178.4,-2.17,3400),(185.3,-1.96,1000),(185.3,-2.36,1200),(190,-2.25,3600),(180.1,-2.7,1700),(180.1,-3.16,1700),(174.1,-3.33,3400),(182.9,-3.45,1200),(183.4,-3.62,1000),(183.6,-4.02,1000),(183.6,-4.28,1000)]

stars_gl217 = [(231.6,2.35,4200),(230.7,2.26,3800),(222.4,1.6,3400),(224,1.32,2600),(231,1.68,3500),(229.5,1.48,3600),(232.4,1.24,3200),(231.3,1.14,3400),(224,1.07,3400),(226.6,1.03,3300),(228.2,1.02,3200),(217.5,.85,2300),(225.3,.66,2400),(230,.66,4100),(231.3,.66,2000),(235,1.72,3300),(235.6,1.63,3700),(234.8,1.4,3400),(235,1.17,3400),(235.3,.77,4600),(234.4,.61,3500),(219,.32,3500),(223.6,.37,3600),(230.8,.32,3300),(230.9,.22,3300),(235.1,.17,3500),(227.8,-.09,3300),(220.6,-.07,2400),(218.3,-.07,2600),(217.5,-.26,2500),(223.8,-.26,3000),(231.3,-.16,2800),(234.7,-.26,4600),
(220.4,-.65,3000),(221.9,-.69,1000),(226.2,-.75,1000),(226.7,-.63,1000),(217.5,-.79,3000),(222.7,-1.06,3000),(224.4,-1.2,1000),(231.3,-.77,3300),(220.9,-1.28,3300),(229.5,-1.31,3600),(230.1,-1.47,3500),(219.2,-1.62,3000),(223.8,-1.62,2700),(230.1,-1.67,3500),(232.4,-1.84,3400),(218.6,-1.78,3200),(228.7,-1.96,4100),(224.5,-1.96,1300),(220.1,-2.13,1000),(226.7,-2.3,2800),(229.5,-2.25,3500),(231.3,-2.31,3500),(223.4,-2.25,3200),(218.6,-2.36,2800),(223.4,-2.49,1300),(220.4,-2.6,3600),(229.5,-2.46,3500),(222.7,-2.87,3200),(231.3,-2.92,3300),(220.4,-3,2000),(223.8,-3.1,2800),(225,-3.27,1700),(220.1,-3.81,2500),(223.8,-4.09,1000),(224.6,-4.13,1600),(229,-4.67,1500),(231.6,-4.62,3500),(231.6,-4.79,3500),(222.7,-4.89,1300),(229.5,-8.51,1000),
(235,-.26,4400),(234.7,-.55,3400),(235.4,-.89,3700),(234.8,-1.18,4000),(235,-2.05,3600),(234.8,-3.18,4600),(234.4,-3.33,3500),(234.8,-3.46,3500),(234.9,-3.75,3300),(234.3,-4.04,3300),(234.2,-4.28,3300),(235,-4.83,3300)]

stars_gl244 = [(246.8,1.51,4000),(247,.77,3900),(244.8,.29,3700),(245.3,.17,4300),(246.4,-.02,3800),(245.6,-.31,4300),(246.5,-.28,4300),(245.4,-.36,4300),(244.7,-.47,4400),(245.6,-.47,4700),(246.2,-.53,4000),(244.5,-.55,4600),(244.7,-.79,3700),(245.3,-1.08,3300),(245.4,-1.37,4300),(244.8,-1.47,4100),(245.6,-1.55,4700),(245.6,-1.67,4000),(244.7,-1.89,4900),(244.3,-2.13,5200),(244.7,-2.37,4300)]

stars_gl358 = [(358.5,3,1300),(359,2.73,1300),(358.9,2.42,800),(359.5,2.24,700),(358.8,2.04,1000),(359.1,1.77,2000),(358.3,1.67,1500),(359.6,1.66,1200),(359.3,1.18,1500),(360,.93,2200),(359.2,4.63,2000)]

star_groups = [stars_gl0, stars_gl0_dense, stars_gl28, stars_gl68, stars_gl87, stars_gl110, stars_gl87_dense,
               stars_gl123, stars_gl123_dense, stars_gl171, stars_gl217, stars_gl244, stars_gl358]

title = "OB stars with cuts"
xlabel = "gl"
ylabel = "gb"
cbar_label = "distance [pc]"
cbar_ticks = [1000, 2000, 3000, 4000, 5000]

fig, ax = plt.subplots(figsize=(18.55, 10.22), dpi=100)

for outline in areas:
    xs, ys = zip(*outline)
    ax.fill(xs, ys, color='C0', lw=0.3, zorder=1)

stray_gl, stray_gb = zip(*strays)
ax.scatter(stray_gl, stray_gb, s=4, color='C0', linewidths=0, zorder=1)

gap_gl, gap_gb = zip(*gaps)
ax.scatter(gap_gl, gap_gb, s=5, color='white', linewidths=0, zorder=2)

stars = np.array([row for group in star_groups for row in group], dtype=float)
sc = ax.scatter(stars[:, 0], stars[:, 1], c=stars[:, 2], s=12, cmap='viridis',
                vmin=490, vmax=5500, linewidths=0, zorder=3)

ax.set_xlim(-18, 378)
ax.set_ylim(-11.44, 11.44)
ax.set_xticks(range(0, 351, 50))
ax.set_yticks([-10, -5, 0, 5, 10])
ax.set_yticklabels(['\u221210', '\u22125', '0', '5', '10'])
ax.set_title(title)
ax.set_xlabel(xlabel)
ax.set_ylabel(ylabel)

cb = fig.colorbar(sc, ax=ax, label=cbar_label)
cb.set_ticks(cbar_ticks)

fig.savefig('out.png', dpi=100)
